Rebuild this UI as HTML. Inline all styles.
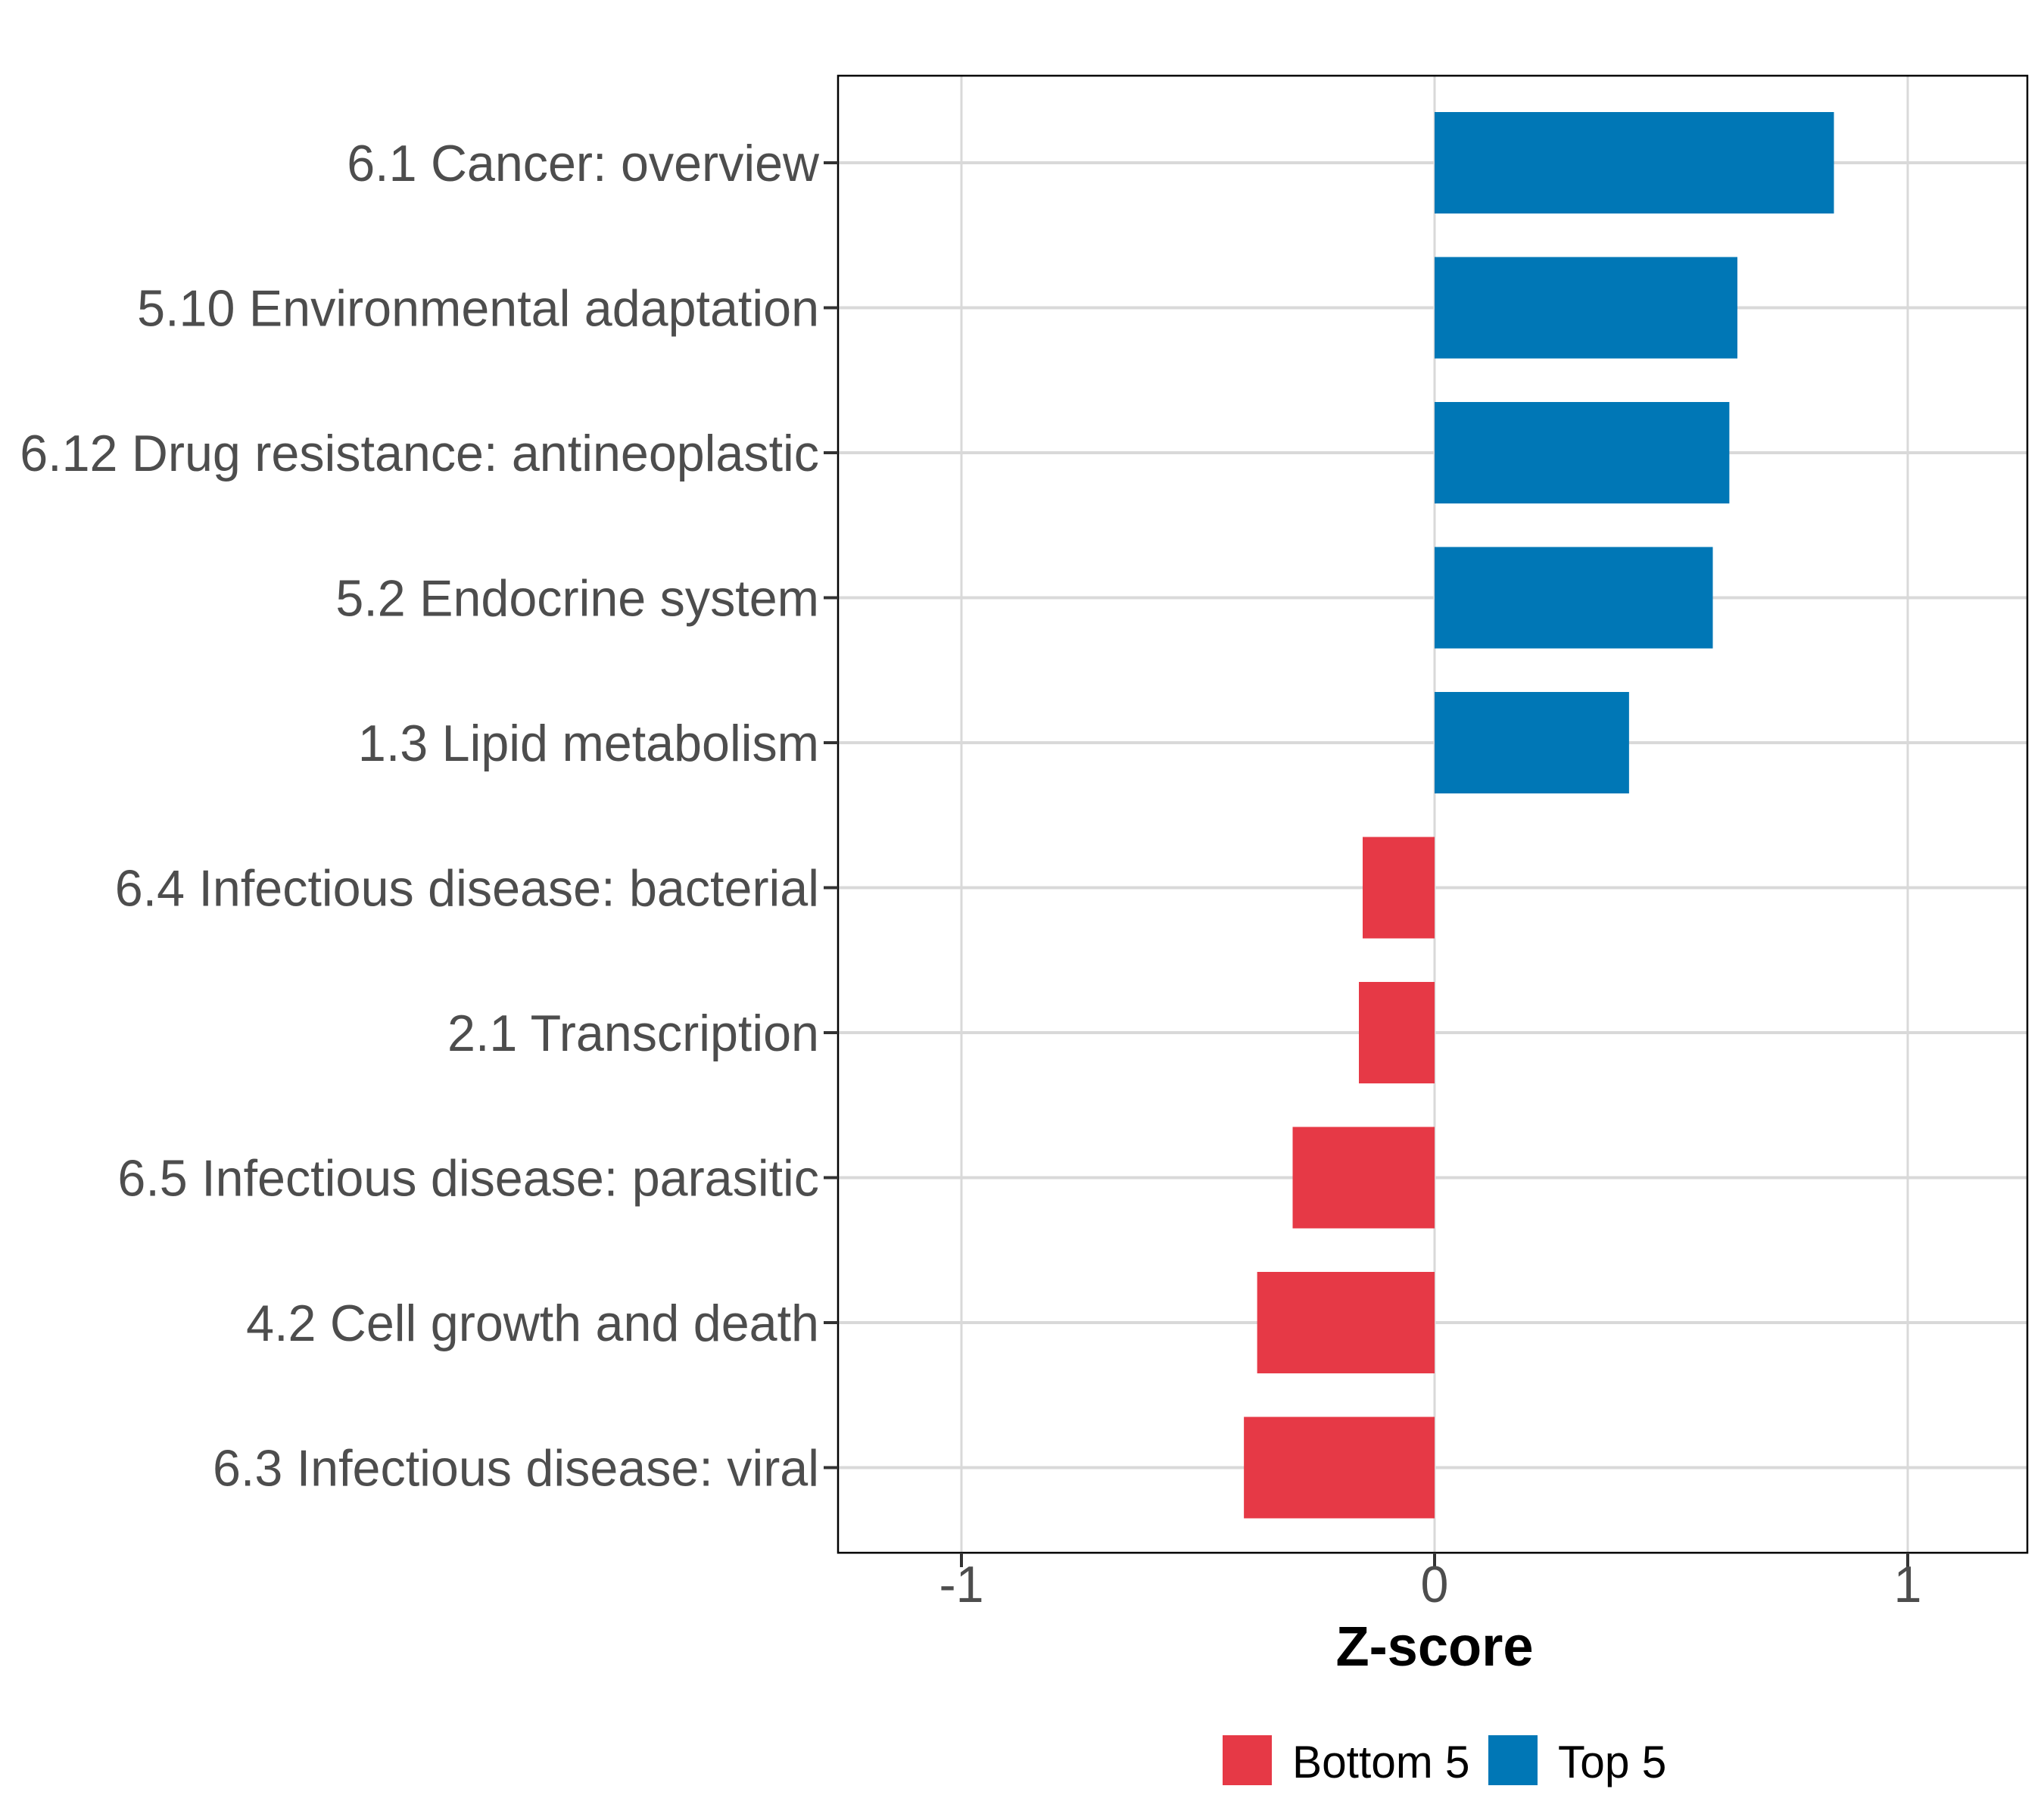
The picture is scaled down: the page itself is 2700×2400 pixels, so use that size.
<!DOCTYPE html>
<html><head><meta charset="utf-8"><style>
html,body{margin:0;padding:0;background:#fff;}
svg{display:block;font-family:"Liberation Sans",Arial,sans-serif;}
</style></head><body>
<svg id="chart" width="2700" height="2400" viewBox="0 0 2700 2400" xmlns="http://www.w3.org/2000/svg">
<rect width="2700" height="2400" fill="#fff"/>
<g id="grid"></g><g id="bars"></g><g id="axes"></g><g id="legend"></g>
</svg>
<script>
const categories = ["6.1 Cancer: overview","5.10 Environmental adaptation","6.12 Drug resistance: antineoplastic","5.2 Endocrine system","1.3 Lipid metabolism","6.4 Infectious disease: bacterial","2.1 Transcription","6.5 Infectious disease: parasitic","4.2 Cell growth and death","6.3 Infectious disease: viral"];
const zscores = [0.844,0.64,0.623,0.588,0.411,-0.152,-0.16,-0.30,-0.375,-0.403];
const groups = ["Top 5","Top 5","Top 5","Top 5","Top 5","Bottom 5","Bottom 5","Bottom 5","Bottom 5","Bottom 5"];
const xTicks = [-1,0,1];
const legendLabels = ["Bottom 5","Top 5"];

const NS="http://www.w3.org/2000/svg";
const colors={"Bottom 5":"#e63946","Top 5":"#0077b6"};
const L=1107,R=2678,T=100,B=2051;
const x0=1895,unit=625;
function xs(v){return x0+v*unit;}
const step=191.5,firstY=215;
function ys(i){return firstY+i*step;}
function mk(tag,attrs,parent){const e=document.createElementNS(NS,tag);for(const k in attrs)e.setAttribute(k,attrs[k]);parent.appendChild(e);return e;}
const grid=document.getElementById('grid'),bars=document.getElementById('bars'),axes=document.getElementById('axes'),legend=document.getElementById('legend');

xTicks.forEach(t=>{
  const g=mk('line',{x1:xs(t),x2:xs(t),y1:T,y2:B,stroke:'#d9d9d9','stroke-width':3},grid);
  
  
});
categories.forEach((c,i)=>{
  const g=mk('line',{x1:L,x2:R,y1:ys(i),y2:ys(i),stroke:'#d9d9d9','stroke-width':4},grid);
  
  
});
const bh=134;
zscores.forEach((v,i)=>{
  const a=xs(0),b=xs(v);
  const r=mk('rect',{x:Math.min(a,b),y:ys(i)-bh/2,width:Math.abs(b-a),height:bh,fill:colors[groups[i]]},bars);
  
  
});
const panel=mk('rect',{x:L,y:T,width:R-L,height:B-T,fill:'none',stroke:'#000','stroke-width':2.5},axes);



const labels=[];
categories.forEach((c,i)=>{
  const tk=mk('line',{x1:L-19,x2:L,y1:ys(i),y2:ys(i),stroke:'#333','stroke-width':4},axes);
  
  
  const t=mk('text',{x:0,y:0,'text-anchor':'end','font-size':68,fill:'#4d4d4d'},axes);
  t.textContent=c;
  
  
  labels.push([t,i]);
});
let maxW=0;labels.forEach(([t])=>{maxW=Math.max(maxW,t.getComputedTextLength());});
const sx=maxW>0?1056/maxW:1;
labels.forEach(([t,i])=>{t.setAttribute('transform','translate(1082,'+(ys(i)+24)+') scale('+sx+',1)');});

xTicks.forEach(v=>{
  const tk=mk('line',{x1:xs(v),x2:xs(v),y1:B,y2:B+19,stroke:'#333','stroke-width':4},axes);
  
  
  const t=mk('text',{'text-anchor':'middle','font-size':68,fill:'#4d4d4d',transform:'translate('+xs(v)+',2116) scale('+sx+',1)'},axes);
  t.textContent=String(v);
  
  
});
const xt=mk('text',{'text-anchor':'middle','font-size':74,'font-weight':'bold',fill:'#000',transform:'translate(1895,2200) scale('+sx+',1)'},axes);
xt.textContent='Z-score';



const lx=[1615,1966];
legendLabels.forEach((lab,k)=>{
  const s=mk('rect',{x:lx[k],y:2292,width:65,height:66,fill:colors[lab]},legend);
  
  
  const t=mk('text',{'font-size':60,fill:'#000',transform:'translate('+(lx[k]+92)+',2348) scale('+sx+',1)'},legend);
  t.textContent=lab;
  
  
});
</script>
</body></html>
